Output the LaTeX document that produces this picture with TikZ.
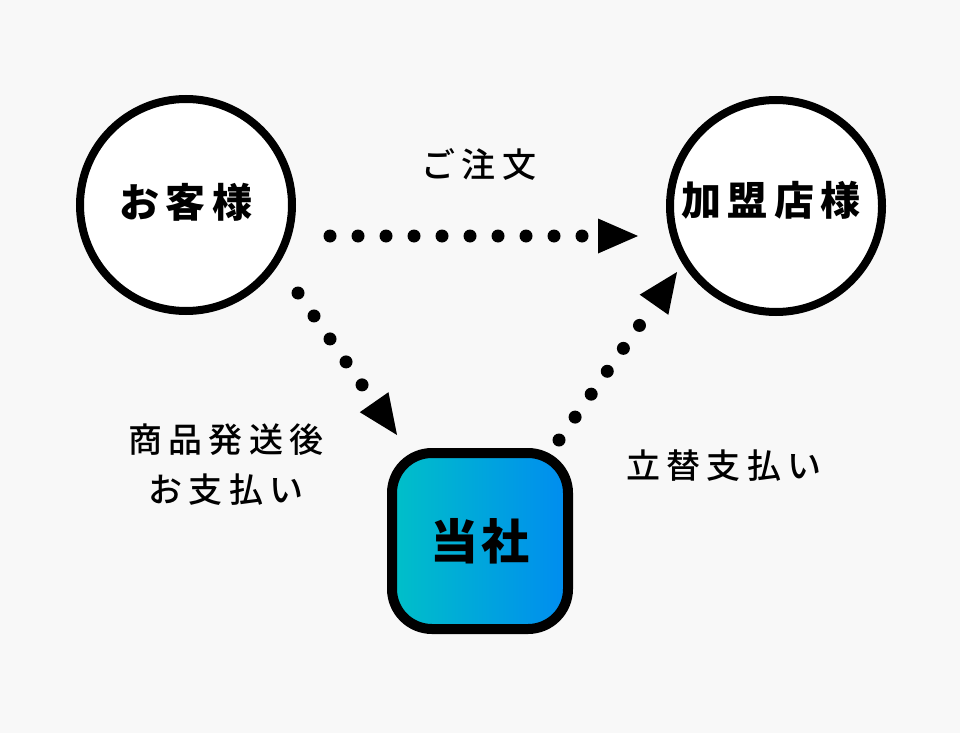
\documentclass[tikz,border=0pt]{standalone}
\usepackage{fontspec}
\usetikzlibrary{arrows.meta}
\newfontfamily\jp{Noto Sans CJK JP}
\newfontfamily\jpmed{Noto Sans CJK JP}[UprightFont = * Medium]
\definecolor{bggray}{RGB}{248, 248, 248}
\definecolor{firmcyan}{RGB}{0, 192, 200}
\definecolor{firmblue}{RGB}{0, 140, 240}

\begin{document}
\begin{tikzpicture}[x = 1pt, y = -1pt,
			party/.style = {circle, draw, line width = 8pt, fill = white, minimum size = 212pt, inner sep = 0pt},
			partyname/.style = {inner sep = 0pt, font = \jp\bfseries\fontsize{40}{42}\selectfont\addfontfeatures{LetterSpace = 16}},
			firmbox/.style = {rectangle, rounded corners = 40pt, draw, line width = 10pt, minimum width = 176pt,
				minimum height = 176pt, left color = firmcyan, right color = firmblue,
				font = \jp\bfseries\fontsize{48}{50}\selectfont\addfontfeatures{LetterSpace = 6}},
			note/.style = {inner sep = 0pt, font = \jpmed\fontsize{34}{50}\selectfont\addfontfeatures{LetterSpace = 18}},
			dotline/.style = {line width = 13pt, line cap = round, dash pattern = on 0pt off 28pt,
				-{Triangle[length = 40pt, width = 35pt, line width' = 0pt]}}]
			\fill[bggray] (0,0) rectangle (960,733);
			\useasboundingbox (0,0) rectangle (960,733);
			% the three parties
			\node (cust) at (186,205) [party] {};
			\node (shop) at (776,206) [party] {};
			\node (custname) at (186,202) [partyname] {お客様};
			\node (shopname) at (771,200) [partyname] {加盟店様};
			\node (firm) at (480,541) [firmbox] {当社};
			% flow labels
			\node (order) at (479,164) [note] {ご注文};
			\node (paid) at (226,465) [note, align = center] {商品発送後\\お支払い};
			\node (advance) at (724,466) [note] {立替支払い};
			\draw[dotline] ([shift = {(144,31)}]cust.center) -- ([shift = {(-138,30)}]shop.center);
			\draw[dotline] ([shift = {(112,88)}]cust.center) -- ([shift = {(-83,-106)}]firm.center);
			\draw[dotline] ([shift = {(79,-101)}]firm.center) -- ([shift = {(-99,66)}]shop.center);
			\end{tikzpicture}
\end{document}
